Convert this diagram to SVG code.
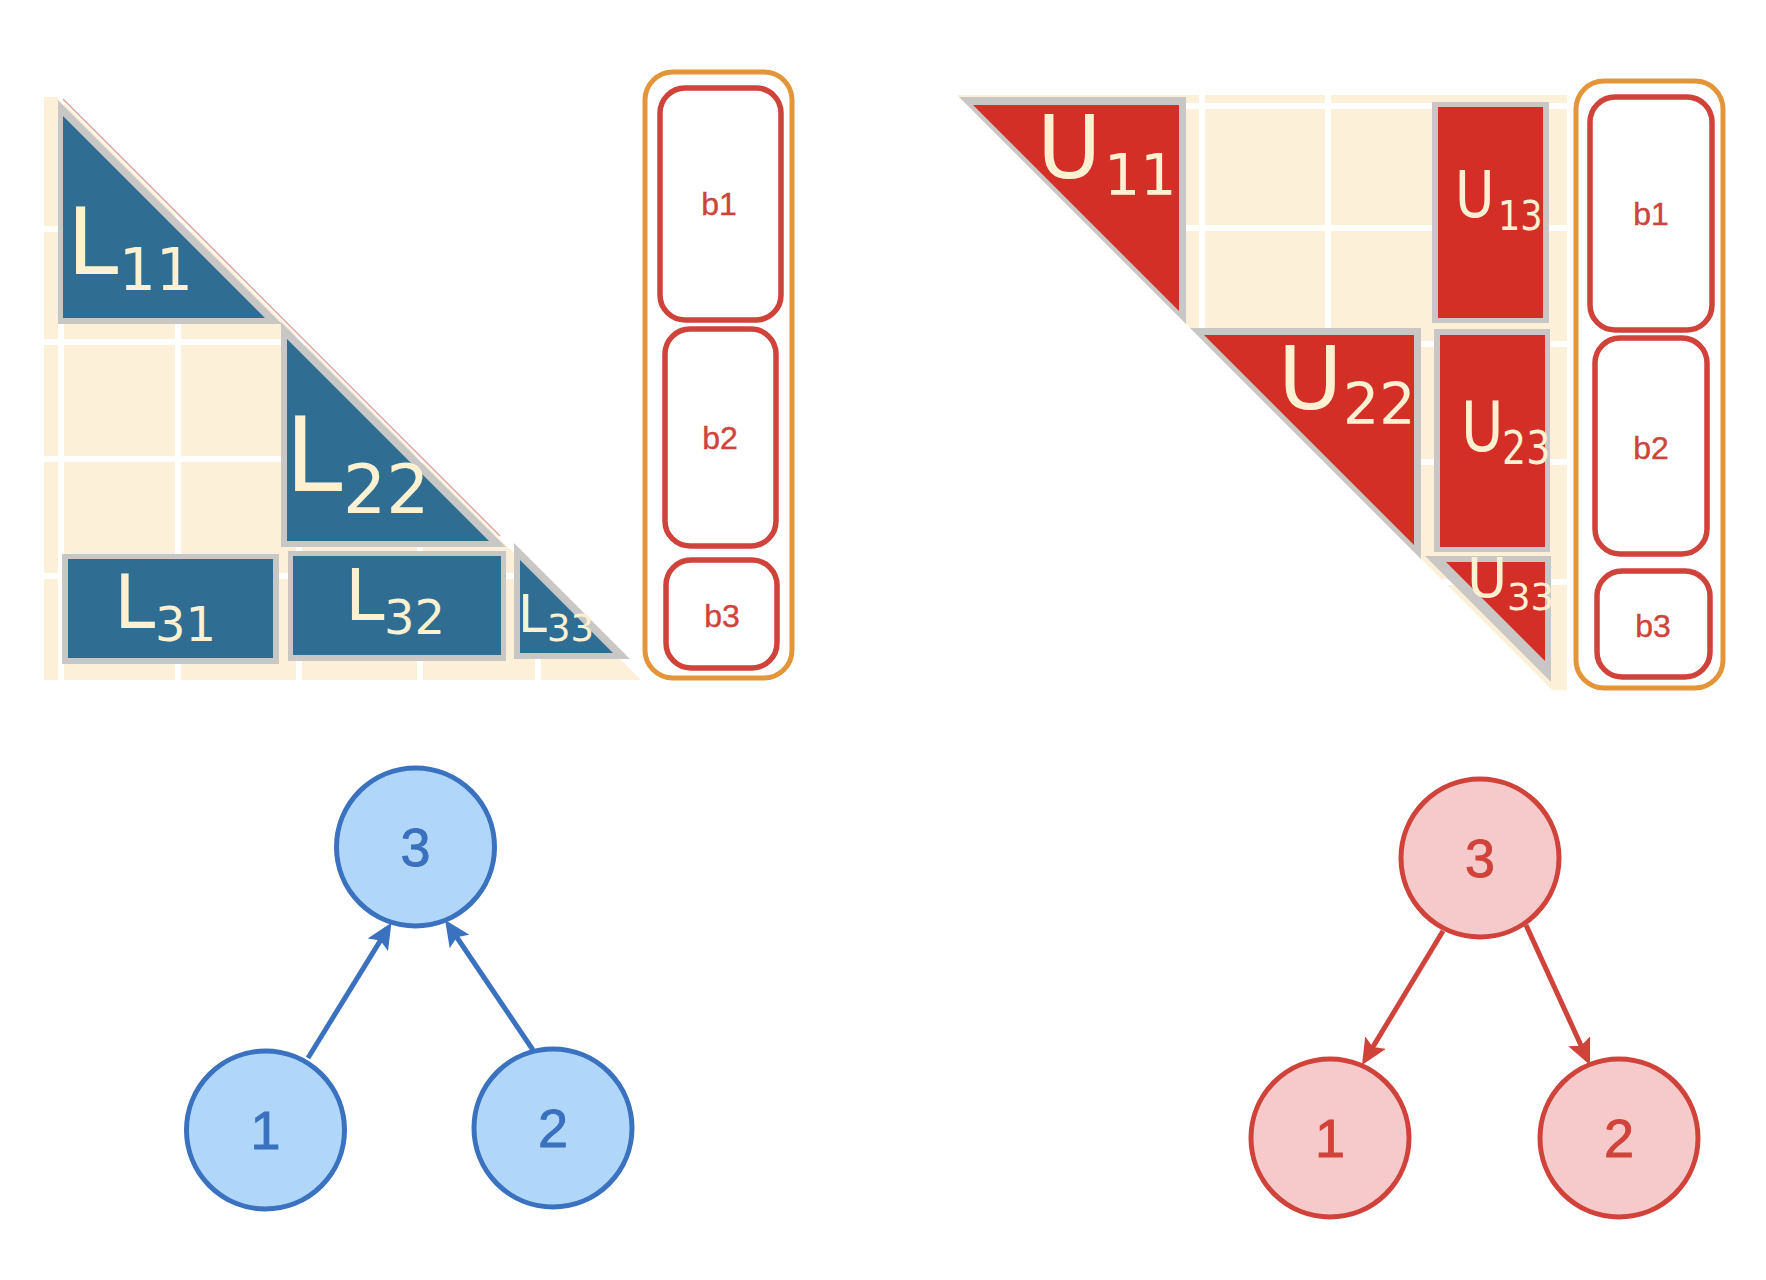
<svg xmlns="http://www.w3.org/2000/svg" width="1766" height="1280" viewBox="0 0 1766 1280">
<defs>
<style>
.cream{fill:#fcf1d8}
.grid{stroke:#ffffff;stroke-width:6}
.gray{fill:#c9c7c6}
.blue{fill:#2f6e92}
.red{fill:#d42f27}
.lab{font-family:"DejaVu Sans",sans-serif;fill:#fdf1d2}
.vec{fill:#ffffff;stroke:#e4953a;stroke-width:5}
.bx{fill:#ffffff;stroke:#d0433a;stroke-width:5.5}
.bt{font-family:"Liberation Sans",Arial,sans-serif;font-size:32px;fill:#d0433a;text-anchor:middle;stroke:#d0433a;stroke-width:0.4}
.nb{fill:#b0d7fa;stroke:#3a72c0;stroke-width:5}
.nr{fill:#f6caca;stroke:#d0433a;stroke-width:5}
.tb{font-family:"Liberation Sans",Arial,sans-serif;font-size:54px;fill:#3a70bd;stroke:#3a70bd;stroke-width:0.9;text-anchor:middle}
.tr{font-family:"Liberation Sans",Arial,sans-serif;font-size:54px;fill:#d0433a;stroke:#d0433a;stroke-width:0.9;text-anchor:middle}
.eb{stroke:#3a72c0;stroke-width:5;fill:none}
.er{stroke:#d0433a;stroke-width:5;fill:none}
</style>
<clipPath id="clipL"><polygon points="44,97 58,97 641,680 44,680"/></clipPath>
<clipPath id="clipR"><polygon points="957,95 1567,95 1567,690 1552,690"/></clipPath>
<marker id="ab" viewBox="0 0 26 24" markerWidth="26" markerHeight="24" refX="9" refY="12" orient="auto" markerUnits="userSpaceOnUse"><path d="M0,0 L26,12 L0,24 L5,12 z" fill="#3a72c0"/></marker>
<marker id="ar" viewBox="0 0 26 24" markerWidth="26" markerHeight="24" refX="9" refY="12" orient="auto" markerUnits="userSpaceOnUse"><path d="M0,0 L26,12 L0,24 L5,12 z" fill="#d0433a"/></marker>
</defs>
<rect width="1766" height="1280" fill="#ffffff"/>

<g id="matrixL">
<polygon class="cream" points="44,97 58,97 641,680 44,680"/>
<g clip-path="url(#clipL)">
<line class="grid" x1="61" y1="90" x2="61" y2="690"/>
<line class="grid" x1="178" y1="90" x2="178" y2="690"/>
<line class="grid" x1="299" y1="90" x2="299" y2="690"/>
<line class="grid" x1="420" y1="90" x2="420" y2="690"/>
<line class="grid" x1="538" y1="90" x2="538" y2="690"/>
<line class="grid" x1="40" y1="229" x2="650" y2="229"/>
<line class="grid" x1="40" y1="342" x2="650" y2="342"/>
<line class="grid" x1="40" y1="459" x2="650" y2="459"/>
<line class="grid" x1="40" y1="576" x2="650" y2="576"/>
</g>
<line x1="63" y1="99" x2="500" y2="536" stroke="#e3a39b" stroke-width="1.5"/>
</g>

<g id="L11">
<polygon class="gray" points="58,100 58,324 282,324"/>
<polygon class="blue" points="63,116 63,318 265,318"/>
<text class="lab"><tspan x="67" y="274" font-size="92">L</tspan><tspan x="119" y="290" font-size="58">11</tspan></text>
</g>
<g id="L22">
<polygon class="gray" points="281,322 281,547 506,547"/>
<polygon class="blue" points="287,339 287,541 489,541"/>
<text class="lab"><tspan x="285" y="491" font-size="103">L</tspan><tspan x="343" y="513" font-size="68">22</tspan></text>
</g>
<g id="L31">
<rect class="gray" x="62" y="554" width="217" height="110"/>
<rect class="blue" x="68" y="559" width="205" height="99"/>
<text class="lab"><tspan x="114" y="628" font-size="74">L</tspan><tspan x="155" y="641" font-size="48">31</tspan></text>
</g>
<g id="L32">
<rect class="gray" x="288" y="551" width="218" height="110"/>
<rect class="blue" x="293" y="556" width="208" height="99"/>
<text class="lab"><tspan x="345" y="620" font-size="71">L</tspan><tspan x="384" y="634" font-size="48">32</tspan></text>
</g>
<g id="L33">
<polygon class="gray" points="514,543 514,659 630,659"/>
<polygon class="blue" points="520,560 520,653 613,653"/>
<text class="lab"><tspan x="518" y="632" font-size="52">L</tspan><tspan x="547" y="641" font-size="37">33</tspan></text>
</g>

<g id="vecL">
<rect class="vec" x="645" y="72" width="147" height="606" rx="28"/>
<g id="bL1"><rect class="bx" x="660" y="88" width="121" height="232" rx="25"/><text class="bt" x="719" y="215">b1</text></g>
<g id="bL2"><rect class="bx" x="665" y="329" width="111" height="217" rx="25"/><text class="bt" x="720" y="449">b2</text></g>
<g id="bL3"><rect class="bx" x="666" y="560" width="111" height="108" rx="25"/><text class="bt" x="722" y="627">b3</text></g>
</g>

<g id="matrixR">
<polygon class="cream" points="957,95 1567,95 1567,690 1552,690"/>
<g clip-path="url(#clipR)">
<line class="grid" x1="1202" y1="90" x2="1202" y2="700"/>
<line class="grid" x1="1328" y1="90" x2="1328" y2="700"/>
<line class="grid" x1="950" y1="106" x2="1570" y2="106"/>
<line class="grid" x1="950" y1="228" x2="1570" y2="228"/>
<line class="grid" x1="950" y1="344" x2="1570" y2="344"/>
<line class="grid" x1="950" y1="462" x2="1570" y2="462"/>
<line class="grid" x1="950" y1="582" x2="1570" y2="582"/>
</g>
</g>

<g id="U11">
<polygon class="gray" points="959,97 1186,97 1186,324"/>
<polygon class="red" points="973,105 1179,105 1179,311"/>
<text class="lab"><tspan x="1037" y="178" font-size="88">U</tspan><tspan x="1104" y="195" font-size="57">11</tspan></text>
</g>
<g id="U22">
<polygon class="gray" points="1190,328 1421,328 1421,559"/>
<polygon class="red" points="1204,335 1414,335 1414,545"/>
<text class="lab"><tspan x="1278" y="409" font-size="88">U</tspan><tspan x="1343" y="424" font-size="57">22</tspan></text>
</g>
<g id="U13">
<rect class="gray" x="1432" y="102" width="117" height="221"/>
<rect class="red" x="1438" y="107" width="105" height="211"/>
<text class="lab" transform="translate(1455,217) scale(1,1.17)"><tspan x="0" y="0" font-size="54">U</tspan><tspan x="43" y="11" font-size="35">13</tspan></text>
</g>
<g id="U23">
<rect class="gray" x="1434" y="329" width="116" height="223"/>
<rect class="red" x="1440" y="335" width="105" height="212"/>
<text class="lab" transform="translate(1461,451) scale(1,1.2)"><tspan x="0" y="0" font-size="58">U</tspan><tspan x="41" y="11" font-size="38">23</tspan></text>
</g>
<g id="U33">
<polygon class="gray" points="1425,556 1551,556 1551,682"/>
<polygon class="red" points="1446,562 1545,562 1545,661"/>
<text class="lab"><tspan x="1467" y="597" font-size="55">U</tspan><tspan x="1507" y="610" font-size="37">33</tspan></text>
</g>

<g id="vecR">
<rect class="vec" x="1576" y="81" width="147" height="607" rx="28"/>
<g id="bR1"><rect class="bx" x="1590" y="97" width="122" height="233" rx="25"/><text class="bt" x="1651" y="225">b1</text></g>
<g id="bR2"><rect class="bx" x="1595" y="338" width="112" height="216" rx="25"/><text class="bt" x="1651" y="459">b2</text></g>
<g id="bR3"><rect class="bx" x="1597" y="571" width="113" height="106" rx="25"/><text class="bt" x="1653" y="637">b3</text></g>
</g>

<g id="connectors">
<line class="eb" x1="308" y1="1058" x2="382.5" y2="937.1" marker-end="url(#ab)"/>
<line class="eb" x1="533" y1="1050" x2="454.6" y2="934" marker-end="url(#ab)"/>
<line class="er" x1="1443" y1="931" x2="1370.8" y2="1050.4" marker-end="url(#ar)"/>
<line class="er" x1="1526" y1="925" x2="1582.9" y2="1049.5" marker-end="url(#ar)"/>
</g>

<g id="nodeB3"><circle class="nb" cx="415.5" cy="847" r="79"/><text class="tb" x="415.5" y="866">3</text></g>
<g id="nodeB1"><circle class="nb" cx="265.5" cy="1130" r="79"/><text class="tb" x="265.5" y="1149">1</text></g>
<g id="nodeB2"><circle class="nb" cx="553" cy="1128" r="79"/><text class="tb" x="553" y="1147">2</text></g>
<g id="nodeR3"><circle class="nr" cx="1480" cy="858" r="79"/><text class="tr" x="1480" y="877">3</text></g>
<g id="nodeR1"><circle class="nr" cx="1330" cy="1138" r="79"/><text class="tr" x="1330" y="1157">1</text></g>
<g id="nodeR2"><circle class="nr" cx="1619" cy="1138" r="79"/><text class="tr" x="1619" y="1157">2</text></g>
</svg>
